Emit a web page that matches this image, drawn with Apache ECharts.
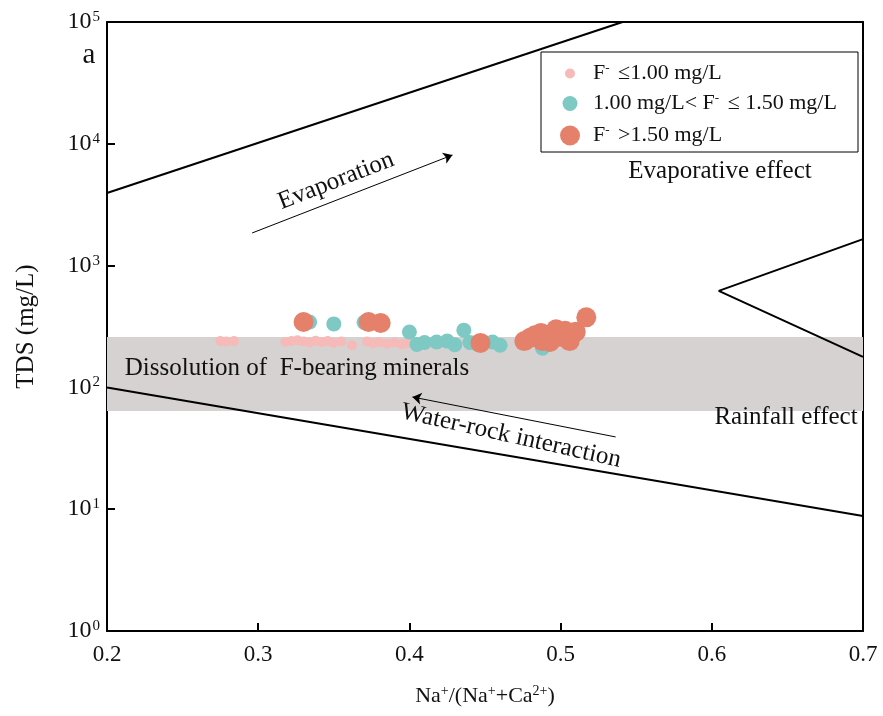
<!DOCTYPE html>
<html>
<head>
<meta charset="utf-8">
<script src="https://cdn.jsdelivr.net/npm/echarts@6/dist/echarts.min.js"></script>
<style>html,body{margin:0;padding:0;background:#fff}#c{width:883px;height:716px}</style>
</head>
<body>
<div id="c"></div>
<script>
// ---- data ----
const pinkX = [0.275,0.279,0.284,0.318,0.322,0.326,0.330,0.334,0.338,0.342,0.346,0.350,0.355,0.362,0.372,0.376,0.380,0.385,0.390,0.395,0.399];
const pinkY = [240,238,240,236,240,244,238,234,242,236,240,232,238,222,238,230,236,228,234,226,232];
const tealX = [0.334,0.350,0.370,0.400,0.405,0.410,0.418,0.425,0.430,0.436,0.440,0.445,0.455,0.460,0.488,0.492];
const tealY = [344,332,342,285,225,234,236,240,224,295,234,226,236,222,210,226];
const orangeX = [0.330,0.373,0.381,0.447,0.476,0.480,0.483,0.487,0.488,0.490,0.493,0.495,0.497,0.500,0.503,0.505,0.506,0.510,0.517];
const orangeY = [344,344,338,232,240,256,268,280,240,250,236,266,300,260,292,276,240,286,376];
const upperLineX = [0.2, 0.541];
const upperLineY = [3950, 100000];
const triX = [0.7, 0.6046, 0.7];
const triY = [1650, 620, 178];
const lowerLineX = [0.2, 0.7];
const lowerLineY = [100, 8.8];
const bandY = [64, 259];
const evapArrow = [[0.296, 1853], [0.4285, 8090]];
const wrArrow = [[0.5364, 39.2], [0.402, 83.4]];
const xTicks = [0.2, 0.3, 0.4, 0.5, 0.6, 0.7];
const legendNames = ['F{s|-} ≤1.00 mg/L', '1.00 mg/L< F{s|-} ≤ 1.50 mg/L', 'F{s|-} >1.50 mg/L'];
const seriesNames = ['low', 'mid', 'high'];
const colors = ['#f6bab8', '#7fc9c5', '#e5816b'];
const sizes = [10, 15, 20];

const zip = (a, b) => a.map((v, i) => [v, b[i]]);
const FONT = '"Liberation Serif", "Times New Roman", serif';
const chart = echarts.init(document.getElementById('c'), null, {renderer: 'canvas'});

const supRich = {
  b: {fontSize: 24, fontFamily: FONT, color: '#111'},
  s: {fontSize: 15, fontFamily: FONT, color: '#111', verticalAlign: 'top', padding: [0, 0, 10, 1]}
};
const nameRich = {
  b: {fontSize: 22, fontFamily: FONT, color: '#111'},
  s: {fontSize: 14, fontFamily: FONT, color: '#111', verticalAlign: 'top', padding: [0, 0, 10, 0]}
};
const legendRich = {
  s: {fontSize: 13, fontFamily: FONT, color: '#111', padding: [0, 3, 10, 0]}
};

const legendTops = [62, 92, 124];
const legends = seriesNames.map((n, i) => ({
  data: [n],
  left: 570 - sizes[i] / 2,
  top: legendTops[i],
  orient: 'vertical',
  icon: 'circle',
  itemWidth: 36,
  itemHeight: sizes[i],
  itemGap: 5,
  padding: 0,
  selectedMode: false,
  formatter: () => legendNames[i],
  textStyle: {fontSize: 22, fontFamily: FONT, color: '#111', rich: legendRich}
}));

const option = {
  animation: false,
  backgroundColor: '#fff',
  grid: {left: 107, top: 22, right: 20, bottom: 85, containLabel: false},
  legend: legends,
  xAxis: [{
    type: 'value', min: xTicks[0], max: xTicks[xTicks.length - 1], interval: 0.1,
    name: '{b|Na}{s|+}{b|/(Na}{s|+}{b|+Ca}{s|2+}{b|)}',
    nameLocation: 'middle', nameGap: 53,
    nameTextStyle: {rich: nameRich},
    axisLine: {lineStyle: {color: '#000', width: 2}},
    axisTick: {inside: true, length: 8, lineStyle: {color: '#000', width: 2}},
    axisLabel: {margin: 12, fontSize: 23, fontFamily: FONT, color: '#111', formatter: v => v.toFixed(1)},
    splitLine: {show: false}
  }, {
    type: 'value', position: 'top', min: 0.2, max: 0.7,
    axisLine: {show: true, onZero: false, lineStyle: {color: '#000', width: 2}},
    axisTick: {show: false}, axisLabel: {show: false}, splitLine: {show: false}
  }],
  yAxis: [{
    type: 'log', logBase: 10, min: 1, max: 100000,
    name: 'TDS (mg/L)', nameLocation: 'middle', nameGap: 68,
    nameTextStyle: {fontSize: 25, fontFamily: FONT, color: '#111'},
    axisLine: {show: true, lineStyle: {color: '#000', width: 2}},
    axisTick: {show: true, inside: true, length: 8, lineStyle: {color: '#000', width: 2}},
    axisLabel: {margin: 7, rich: supRich, formatter: v => '{b|10}{s|' + Math.round(Math.log10(v)) + '}'},
    minorTick: {show: false},
    splitLine: {show: false}
  }, {
    type: 'log', logBase: 10, min: 1, max: 100000, position: 'right',
    axisLine: {show: true, onZero: false, lineStyle: {color: '#000', width: 2}},
    axisTick: {show: false}, axisLabel: {show: false}, splitLine: {show: false}
  }],
  series: [
    {
      type: 'line', name: 'band', data: [], z: 1, silent: true,
      markArea: {silent: true, itemStyle: {color: '#d6d2d2'},
        data: [[{yAxis: bandY[0], x: 107}, {yAxis: bandY[1], x: 863}]]}
    },
    {type: 'line', name: 'upper', data: zip(upperLineX, upperLineY), symbol: 'none', z: 2,
      lineStyle: {color: '#000', width: 2}},
    {type: 'line', name: 'tri', data: zip(triX, triY), symbol: 'none', z: 2,
      lineStyle: {color: '#000', width: 2}},
    {type: 'line', name: 'lower', data: zip(lowerLineX, lowerLineY), symbol: 'none', z: 2,
      lineStyle: {color: '#000', width: 2},
      markLine: {
        silent: true, symbol: ['none', 'arrow'], symbolSize: 9,
        label: {show: false},
        lineStyle: {color: '#000', width: 1, type: 'solid'},
        data: [
          [{coord: evapArrow[0]}, {coord: evapArrow[1]}],
          [{coord: wrArrow[0]}, {coord: wrArrow[1]}]
        ]
      }},
    {type: 'scatter', name: seriesNames[0], data: zip(pinkX, pinkY), symbolSize: sizes[0], z: 3,
      itemStyle: {color: colors[0], opacity: 1}},
    {type: 'scatter', name: seriesNames[1], data: zip(tealX, tealY), symbolSize: sizes[1], z: 4,
      itemStyle: {color: colors[1], opacity: 1}},
    {type: 'scatter', name: seriesNames[2], data: zip(orangeX, orangeY), symbolSize: sizes[2], z: 5,
      itemStyle: {color: colors[2], opacity: 1}}
  ],
  graphic: [
    {type: 'rect', z: 100, shape: {x: 541, y: 52, width: 317, height: 100}, style: {fill: 'none', stroke: '#000', lineWidth: 1}},
    {type: 'text', z: 100, x: 89, y: 55, style: {text: 'a', x: 0, y: 0, align: 'center', verticalAlign: 'middle', font: '29px ' + FONT, fill: '#111'}},
    {type: 'text', z: 100, x: 336, y: 181, rotation: 0.37, style: {text: 'Evaporation', x: 0, y: 0, align: 'center', verticalAlign: 'middle', font: '25px ' + FONT, fill: '#111'}},
    {type: 'text', z: 100, x: 720, y: 171, style: {text: 'Evaporative effect', x: 0, y: 0, align: 'center', verticalAlign: 'middle', font: '25px ' + FONT, fill: '#111'}},
    {type: 'text', z: 100, x: 786, y: 417, style: {text: 'Rainfall effect', x: 0, y: 0, align: 'center', verticalAlign: 'middle', font: '25px ' + FONT, fill: '#111'}},
    {type: 'text', z: 100, x: 297, y: 368, style: {text: 'Dissolution of  F-bearing minerals', x: 0, y: 0, align: 'center', verticalAlign: 'middle', font: '25px ' + FONT, fill: '#111'}},
    {type: 'text', z: 100, x: 511, y: 436, rotation: -0.22, style: {text: 'Water-rock interaction', x: 0, y: 0, align: 'center', verticalAlign: 'middle', font: '25px ' + FONT, fill: '#111'}}
  ]
};
chart.setOption(option);
</script>
</body>
</html>
